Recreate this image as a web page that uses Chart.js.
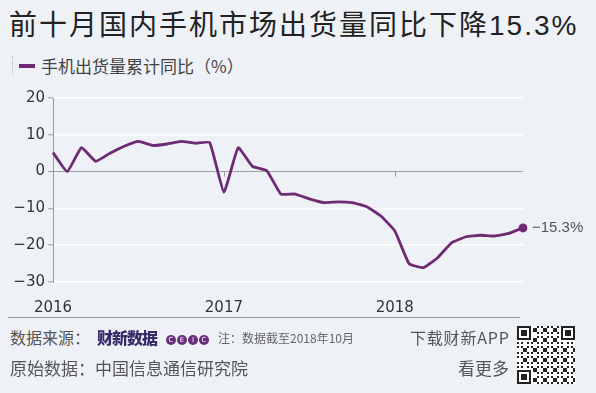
<!DOCTYPE html>
<html>
<head>
<meta charset="utf-8">
<script src="https://cdn.jsdelivr.net/npm/chart.js@4/dist/chart.umd.min.js"></script>
<style>
  html, body { margin: 0; padding: 0; }
  body {
    width: 596px; height: 393px; overflow: hidden; position: relative;
    background: #eef2f7;
    font-family: "Noto Sans CJK SC", "Noto Sans", sans-serif;
    color: #333;
  }
  .title {
    position: absolute; left: 9px; top: 3px;
    font-size: 28px; line-height: 40px; color: #222; letter-spacing: 2px;
    white-space: nowrap; font-weight: 400;
  }
  .title .num { font-family: "Liberation Sans", sans-serif; letter-spacing: 2px; }
  .legend {
    position: absolute; left: 12px; top: 56px; height: 20px;
    border-left: 1px dotted #bbb; padding-left: 6px;
    font-size: 17px; line-height: 20px; color: #444; white-space: nowrap;
  }
  .legend i {
    display: inline-block; width: 16px; height: 4px; background: #6e2a73;
    vertical-align: middle; margin-right: 6px; position: relative; top: -2px;
  }
  #wrap { position: absolute; left: 0; top: 80px; width: 596px; height: 238px; }
  .sep { position: absolute; left: 8px; top: 317px; width: 512px; height: 1px; background: #9a9a9a; }
  .foot { position: absolute; font-size: 16px; line-height: 20px; color: #555; white-space: nowrap; }
  .foot.big { font-size: 17px; }
  .logo1 { font-weight: 900; color: #3a2c6c; letter-spacing: -1px; }
  .ceic { display: inline-block; }
  .ceic span {
    display: inline-block; width: 10px; height: 10px; border-radius: 50%;
    background: #6a2d7a; color: #fff; font-size: 7px; line-height: 10px; text-align: center;
    margin-right: 1px; vertical-align: middle; font-family: "DejaVu Sans", sans-serif;
  }
  .note { font-size: 12px; color: #666; }
  #qr { position: absolute; left: 517px; top: 326px; }
</style>
</head>
<body>
<div class="title">前十月国内手机市场出货量同比下降<span class="num">15.3%</span></div>
<div class="legend"><i></i>手机出货量累计同比（%）</div>
<div id="wrap"><canvas id="chart"></canvas></div>
<div class="sep"></div>
<div class="foot" style="left:10px; top:327px;">数据来源：</div>
<div class="foot logo1" style="left:97px; top:327px;">财新数据</div>
<div class="foot ceic" style="left:166px; top:327px;"><span>C</span><span>E</span><span>I</span><span>C</span></div>
<div class="foot note" style="left:218px; top:328px;">注：数据截至2018年10月</div>
<div class="foot" style="left:410px; top:327px; letter-spacing: 0.8px;">下载财新APP</div>
<div class="foot big" style="left:10px; top:358px;">原始数据：中国信息通信研究院</div>
<div class="foot big" style="left:458px; top:358px;">看更多</div>
<canvas id="qr" width="58" height="58"></canvas>
<script>
// 월별 누적 전년 대비 (%) — 2016-01 ~ 2018-10
const months = [
  '2016-01','2016-02','2016-03','2016-04','2016-05','2016-06','2016-07','2016-08','2016-09','2016-10','2016-11','2016-12',
  '2017-01','2017-02','2017-03','2017-04','2017-05','2017-06','2017-07','2017-08','2017-09','2017-10','2017-11','2017-12',
  '2018-01','2018-02','2018-03','2018-04','2018-05','2018-06','2018-07','2018-08','2018-09','2018-10'
];
const shipmentYoY = [
  5.2, 0, 6.5, 2.8, 5.0, 6.9, 8.2, 7.1, 7.5, 8.2, 7.7, 7.9,
  -5.6, 6.5, 1.4, 0.3, -6.1, -6.1, -7.4, -8.4, -8.2, -8.4, -9.5, -12.0,
  -16.1, -25.0, -26.1, -23.4, -19.3, -17.7, -17.3, -17.5, -16.8, -15.3
];
const yTicks = [20, 10, 0, -10, -20, -30];
const lastLabel = '\u221215.3%';

const purple = '#6e2a73';
const last = shipmentYoY.length - 1;

// 0선 위의 연도 눈금 + 마지막 값 라벨
const extras = {
  id: 'extras',
  afterDatasetsDraw(chart) {
    const ctx = chart.ctx;
    const xs = chart.scales.x, ys = chart.scales.y;
    const y0 = ys.getPixelForValue(0);
    ctx.save();
    ctx.strokeStyle = '#9a9a9a';
    ctx.lineWidth = 1;
    months.forEach((m, i) => {
      if (i > 0 && m.endsWith('-01')) {
        const x = Math.round(xs.getPixelForValue(i)) + 0.5;
        ctx.beginPath(); ctx.moveTo(x, y0); ctx.lineTo(x, y0 + 5); ctx.stroke();
      }
    });
    const px = xs.getPixelForValue(last), py = ys.getPixelForValue(shipmentYoY[last]);
    ctx.fillStyle = '#555';
    ctx.font = '15px "Liberation Sans", sans-serif';
    ctx.textBaseline = 'middle';
    ctx.fillText(lastLabel, px + 9, py);
    ctx.restore();
  }
};

new Chart(document.getElementById('chart'), {
  type: 'line',
  data: {
    labels: months,
    datasets: [{
      data: shipmentYoY,
      borderColor: purple,
      backgroundColor: purple,
      borderWidth: 2.8,
      tension: 0.12,
      pointRadius: c => c.dataIndex === last ? 4.5 : 0,
      pointBorderWidth: 0,
      pointHoverRadius: 0,
    }]
  },
  options: {
    responsive: true,
    maintainAspectRatio: false,
    animation: false,
    layout: { padding: { top: 18, right: 73, left: 0, bottom: 0 } },
    plugins: { legend: { display: false }, tooltip: { enabled: false } },
    scales: {
      x: {
        type: 'category',
        offset: false,
        grid: { display: false, drawTicks: false },
        border: { display: false },
        ticks: {
          autoSkip: false, maxRotation: 0, padding: 17,
          color: '#333', font: { family: 'DejaVu Sans', size: 15 },
          callback: (v, i) => months[i].endsWith('-01') ? months[i].slice(0, 4) : null,
        },
        afterFit: s => { s.height = 36; },
      },
      y: {
        min: -30, max: 20,
        afterBuildTicks: s => { s.ticks = yTicks.map(v => ({ value: v })); },
        grid: {
          color: c => c.tick && c.tick.value === 0 ? '#a0a0a0' : '#ffffff',
          lineWidth: c => c.tick && c.tick.value === 0 ? 1 : 1.6,
          tickColor: '#9a9a9a', tickLength: 5, tickWidth: 1,
        },
        border: { display: true, color: '#9a9a9a', width: 1 },
        ticks: {
          padding: 3, color: '#333',
          font: { family: 'DejaVu Sans', size: 15 },
          callback: v => v < 0 ? '\u2212' + Math.abs(v) : String(v),
        },
        afterFit: s => { s.width = 53; },
      }
    }
  },
  plugins: [extras]
});

// QR 장식
(function () {
  const c = document.getElementById('qr').getContext('2d');
  const n = 29, u = 2;
  c.fillStyle = '#fff'; c.fillRect(0, 0, 58, 58);
  c.fillStyle = '#222';
  const finder = (r0, c0) => {
    for (let r = 0; r < 7; r++) for (let k = 0; k < 7; k++) {
      const edge = r === 0 || r === 6 || k === 0 || k === 6;
      const core = r >= 2 && r <= 4 && k >= 2 && k <= 4;
      if (edge || core) c.fillRect((c0 + k) * u, (r0 + r) * u, u, u);
    }
  };
  for (let r = 0; r < n; r++) for (let k = 0; k < n; k++) {
    if ((r < 8 && k < 8) || (r < 8 && k > n - 9) || (r > n - 9 && k < 8)) continue;
    if (((r * 7 + k * 13 + r * k * 3) % 5) < 2) c.fillRect(k * u, r * u, u, u);
  }
  finder(0, 0); finder(0, n - 7); finder(n - 7, 0);
})();
</script>
</body>
</html>
